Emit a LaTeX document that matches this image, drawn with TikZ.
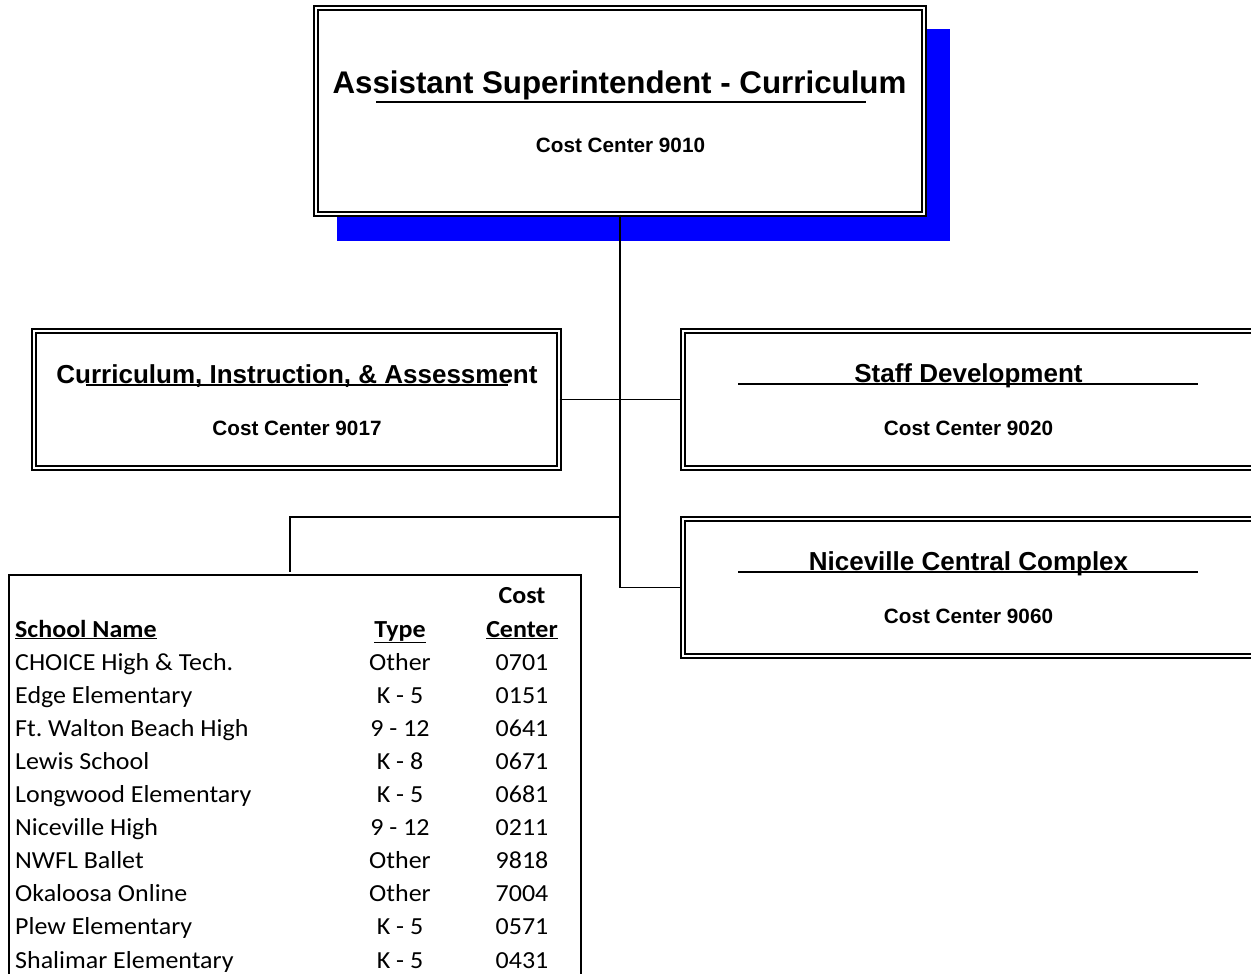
\documentclass[tikz,border=0pt]{standalone}
\usepackage{fontspec}
\newfontfamily\boxfont{Liberation Sans}
\newfontfamily\tblfont[FakeStretch=1.06]{Carlito}

\tikzset{
  orgbox/.style={draw, line width=1.4pt, double, double distance=2.4pt, fill=white, inner sep=0pt},
  titletext/.style={font=\boxfont\bfseries\fontsize{31.3}{37}\selectfont, anchor=base, inner sep=0pt},
  headtext/.style={font=\boxfont\bfseries\fontsize{26}{31}\selectfont, anchor=base, inner sep=0pt},
  cctext/.style={font=\boxfont\bfseries\fontsize{20.7}{25}\selectfont, anchor=base, inner sep=0pt},
  uline/.style={line width=1.3pt},
  link/.style={line width=1.8pt},
  cell/.style={font=\tblfont\fontsize{24.5}{30}\selectfont, anchor=base, inner sep=0pt},
  cellhead/.style={cell, font=\tblfont\bfseries\fontsize{24.5}{30}\selectfont},
}

\begin{document}
\begin{tikzpicture}[x=1pt,y=-1pt]
    \clip (0,0) rectangle (1251,974);
    \fill[white] (0,0) rectangle (1251,974);
    % top box with its shadow
    \fill[blue] (337,29) rectangle (950,241);
    \node[orgbox, minimum width=608, minimum height=206] (asst) at (620,111) {};
    \node[titletext] (asstname) at (619.5,93.5) {Assistant Superintendent - Curriculum};
    \draw[uline] (376,102) -- (866,102);
    \node[cctext] (asstcc) at (620.5,152) {Cost Center 9010};
    % second level
    \node[orgbox, minimum width=525, minimum height=137] (cia) at (296.5,399.5) {};
    \node[headtext] (cianame) at (297,383.3) {Curriculum, Instruction, \& Assessment};
    \draw[uline] (86,385) -- (508,385);
    \node[cctext] (ciacc) at (297,435) {Cost Center 9017};
    \node[orgbox, minimum width=571, minimum height=137] (staff) at (968.5,399.5) {};
    \node[headtext] (staffname) at (968.5,382.5) {Staff Development};
    \draw[uline] (738,384) -- (1198,384);
    \node[cctext] (staffcc) at (968.5,435) {Cost Center 9020};
    \node[orgbox, minimum width=571, minimum height=137] (nice) at (968.5,587.5) {};
    \node[headtext] (nicename) at (968.5,570.5) {Niceville Central Complex};
    \draw[uline] (738,572) -- (1198,572);
    \node[cctext] (nicecc) at (968.5,623) {Cost Center 9060};
    % connectors
    \coordinate (split) at (620,517);
    \coordinate (tbltop) at (290,572);
    \draw[link] (asst.south) |- (nice.west);
    \draw[link] (cia.east) -- (staff.west);
    \draw[link] (split) -| (tbltop);
    % school table
    \draw[line width=2pt] (9,1000) -- (9,575) -- (581,575) -- (581,1000);
    \node[cellhead] (costhead) at (522,603) {Cost};
    \node[cellhead, anchor=base west] (namehead) at (15,637) {\underline{School Name}};
    \node[cellhead] (typehead) at (400,637) {\underline{Type}};
    \node[cellhead] (cchead) at (522,637) {\underline{Center}};
    \foreach \sname/\stype/\scc [count=\i] in {
      CHOICE High \& Tech./Other/0701,
      Edge Elementary/K - 5/0151,
      Ft.\ Walton Beach High/9 - 12/0641,
      Lewis School/K - 8/0671,
      Longwood Elementary/K - 5/0681,
      Niceville High/9 - 12/0211,
      NWFL Ballet/Other/9818,
      Okaloosa Online/Other/7004,
      Plew Elementary/K - 5/0571,
      Shalimar Elementary/K - 5/0431}
    {
      \node[cell, anchor=base west] (name\i) at (15,{637+33.1*\i}) {\sname};
      \node[cell] (type\i) at (400,{637+33.1*\i}) {\stype};
      \node[cell] (cc\i) at (522,{637+33.1*\i}) {\scc};
    }
\end{tikzpicture}
\end{document}
